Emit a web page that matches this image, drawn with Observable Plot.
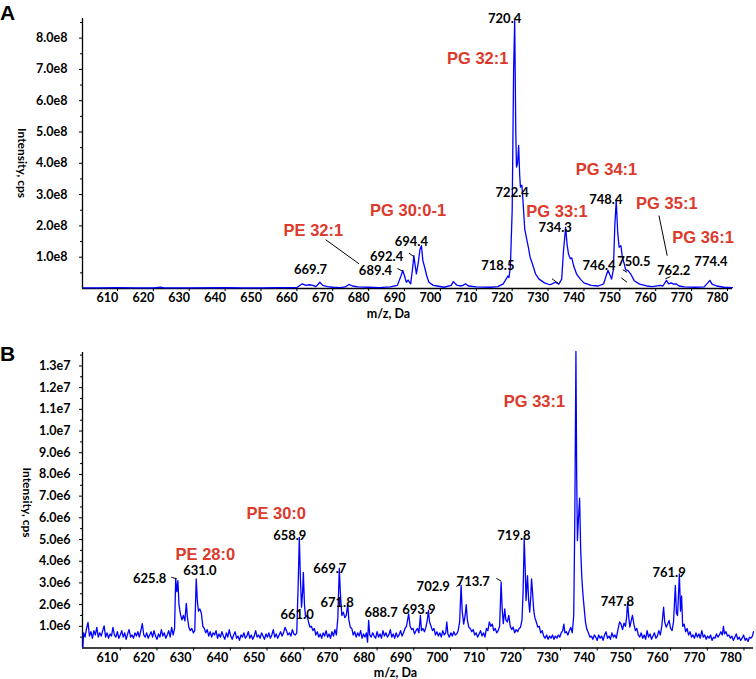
<!DOCTYPE html>
<html><head><meta charset="utf-8">
<script src="https://cdn.jsdelivr.net/npm/d3@7"></script>
<script src="https://cdn.jsdelivr.net/npm/@observablehq/plot@0.6"></script>
<style>
body{margin:0;background:#fff;}
#wrap{position:relative;width:756px;height:679px;overflow:hidden;font-family:Lato,sans-serif;background:#fff;}
.panel{position:absolute;left:0;}
.panel svg{background:transparent !important;}
.tag{position:absolute;font:bold 21px "Liberation Sans",Arial,sans-serif;line-height:25px;}
</style></head><body>
<div id="wrap">
 <div id="pb" class="panel" style="top:312px"></div>
 <div id="pa" class="panel" style="top:0"></div>
 <div class="tag" style="left:0;top:0">A</div>
 <div class="tag" style="left:0;top:341px">B</div>
</div>
<script>
// ---------- Panel A (intensity in units of 1e8 cps) ----------
const mzA = [600.3,605,610,615,620,622,623,630,640,645,650,655,660,661.5,662.5,663.5,664.5,665.3,666.4,667.2,668.5,670,672,673.5,674.5,675.5,677,680,683,686,688,689,689.5,690.0,690.5,691.0,691.7,692.2,692.6,693.0,693.3,693.8,694.3,694.7,695.1,695.6,696.2,696.8,698,699.1,701,703,703.6,704.5,705.5,706.3,707.0,707.8,710,714,716,717.5,718.1,718.8,719.1,719.5,720.0,720.4,720.7,721.0,721.2,721.5,721.8,722.1,722.3,722.7,723.0,723.5,724,724.5,725,725.6,726.5,727.5,729,730.5,731.1,732.0,733.0,733.8,734.3,734.9,735.3,735.7,736.2,736.6,737.2,738,739,740,742,744,745.5,746.3,746.7,747.2,747.7,748.2,748.6,749.0,749.4,749.8,750.3,750.7,751.2,751.6,752.3,753,754,755.5,757.5,759,761.3,762,763.0,763.6,764.3,765,765.7,766.5,768,771,773.5,774.5,775.1,775.7,777,779,781.4];
const intA = [0.02,0.02,0.025,0.02,0.02,0.04,0.02,0.02,0.03,0.02,0.02,0.03,0.03,0.15,0.1,0.12,0.1,0.06,0.2,0.1,0.06,0.04,0.03,0.05,0.13,0.08,0.05,0.04,0.03,0.05,0.1,0.4,0.575,0.4,0.2,0.27,0.15,0.6,1.05,0.7,0.47,0.8,1.25,1.37,0.9,0.68,0.4,0.2,0.1,0.08,0.04,0.1,0.22,0.11,0.08,0.1,0.15,0.08,0.05,0.04,0.06,0.15,0.26,0.4,0.35,0.7,2.5,7.0,8.56,5.0,3.88,4.0,4.57,3.6,3.24,3.3,2.81,1.9,1.6,1.32,1.0,0.8,0.47,0.3,0.18,0.12,0.15,0.2,0.14,0.3,1.2,1.96,1.4,1.1,0.95,0.98,0.7,0.45,0.3,0.18,0.1,0.08,0.15,0.45,0.58,0.45,0.3,0.6,2.0,2.81,1.8,1.32,1.37,1.0,0.8,0.6,0.57,0.47,0.25,0.14,0.08,0.06,0.1,0.08,0.26,0.15,0.18,0.14,0.15,0.08,0.05,0.04,0.05,0.18,0.26,0.14,0.08,0.04,0.03];

const peakTextA = ["669.7","689.4","692.4","694.4","718.5","720.4","722.4","734.3","746.4","748.4","750.5","762.2","774.4"];
const peakXA    = [663.8,681.9,685.0,691.9,716.0,717.9,720.0,732.0,744.2,746.1,753.9,765.0,775.4];
const peakYA    = [0.60,0.575,1.02,1.48,0.73,8.62,3.05,1.93,0.71,2.83,0.86,0.55,0.84];

const lipidTextA = ["PE 32:1","PG 30:0-1","PG 32:1","PG 33:1","PG 34:1","PG 35:1","PG 36:1"];
const lipidXA    = [664.6,691.0,710.4,732.5,746.3,763.1,773.2];
const lipidYA    = [1.85,2.47,7.34,2.44,3.79,2.71,1.62];

const leadX1A = [668.0,688.0,691.2,731.1,750.8,750.4,760.9,762.7];
const leadY1A = [1.56,0.64,1.13,0.31,0.60,0.34,2.33,0.31];
const leadX2A = [677.3,689.5,692.6,733.0,752.0,752.0,763.2,764.1];
const leadY2A = [0.79,0.55,1.02,0.15,0.52,0.20,1.05,0.38];

const yTicksA = [1,2,3,4,5,6,7,8];
const yMinorA = [0.5,1.5,2.5,3.5,4.5,5.5,6.5,7.5,8.5];
const xTicks  = [610,620,630,640,650,660,670,680,690,700,710,720,730,740,750,760,770,780];

// ---------- Panel B (intensity in units of 1e6 cps) ----------
const specB = [
[599.8,0.05],[600.0,0.7],[600.4,0.5],[600.8,0.9],[601.2,1.18],[601.6,0.55],[602.0,0.75],[602.4,0.45],[602.8,0.8],[603.2,0.6],[603.6,0.95],[604.0,0.5],[604.4,0.7],[604.8,0.55],[605.2,0.8],[605.6,1.02],[606.0,0.5],[606.4,0.7],[606.8,0.45],[607.2,0.65],[607.6,0.55],[608.0,0.95],[608.4,0.6],[608.8,0.5],[609.2,0.75],[609.6,0.45],
[610.0,0.6],[610.4,0.8],[610.8,0.5],[611.2,0.7],[611.6,0.4],[612.0,0.65],[612.4,0.85],[612.8,0.5],[613.2,0.6],[613.6,0.45],[614.0,0.7],[614.4,0.55],[614.8,0.75],[615.2,0.5],[615.6,0.8],[616.0,1.12],[616.4,0.6],[616.8,0.5],[617.2,0.7],[617.6,0.45],[618.0,0.6],[618.4,0.75],[618.8,0.5],[619.2,0.8],[619.6,0.55],
[620.0,0.4],[620.4,0.65],[620.8,0.5],[621.2,0.85],[621.6,0.55],[622.0,0.7],[622.4,0.45],[622.8,0.6],[623.2,0.8],[623.6,0.5],[624.0,0.95],[624.4,0.6],[624.8,0.9],[625.1,3.19],[625.4,2.6],[625.7,3.1],[626.0,2.0],[626.4,1.55],[626.8,1.3],[627.2,1.5],[627.6,1.25],[628.0,2.06],[628.3,1.4],[628.7,0.95],[629.1,0.8],[629.5,0.9],[629.9,0.7],
[630.3,0.8],[630.7,3.19],[631.0,2.2],[631.3,1.7],[631.7,1.8],[632.1,1.6],[632.5,1.0],[632.9,0.9],[633.3,0.7],[633.7,0.85],[634.1,0.55],[634.5,0.75],[634.9,0.5],[635.3,0.7],[635.7,0.6],[636.1,0.8],[636.5,0.45],[636.9,0.65],[637.3,0.5],[637.7,0.75],[638.1,0.55],[638.5,0.4],[638.9,0.7],[639.3,0.5],[639.7,0.85],
[640.1,0.55],[640.5,0.4],[640.9,0.6],[641.3,0.75],[641.7,0.45],[642.1,0.55],[642.5,0.35],[642.9,0.6],[643.3,0.5],[643.7,0.7],[644.1,0.45],[644.5,0.55],[644.9,0.75],[645.3,0.45],[645.7,0.6],[646.1,0.4],[646.5,0.55],[646.9,0.8],[647.3,0.5],[647.7,0.6],[648.1,0.45],[648.5,0.7],[648.9,0.55],[649.3,0.4],[649.7,0.65],
[650.1,0.5],[650.5,0.7],[650.9,0.45],[651.3,0.6],[651.7,0.85],[652.1,0.5],[652.5,0.65],[652.9,0.45],[653.3,0.6],[653.7,0.75],[654.1,0.55],[654.5,0.7],[654.9,0.95],[655.3,0.8],[655.7,0.6],[656.1,0.7],[656.5,0.55],[656.9,0.85],[657.3,0.65],[657.7,0.6],[658.1,0.7],[658.5,3.0],[658.8,5.1],[659.1,3.2],[659.4,1.88],[659.7,2.6],[659.9,3.49],
[660.2,2.0],[660.5,1.42],[660.9,1.5],[661.3,1.2],[661.7,0.96],[662.1,1.0],[662.5,0.8],[662.9,0.9],[663.3,0.6],[663.7,0.75],[664.1,0.5],[664.5,0.65],[664.9,0.45],[665.3,0.7],[665.7,0.55],[666.1,0.8],[666.5,0.5],[666.9,0.65],[667.3,0.45],[667.7,0.75],[668.1,0.55],[668.5,0.85],[668.9,0.6],[669.3,1.4],[669.7,3.68],
[670.0,2.5],[670.4,1.5],[670.8,1.65],[671.2,1.4],[671.6,1.5],[672.0,2.03],[672.3,1.3],[672.7,0.96],[673.1,0.9],[673.5,0.6],[673.9,0.75],[674.3,0.5],[674.7,0.7],[675.1,0.55],[675.5,0.8],[675.9,0.45],[676.3,0.65],[676.7,0.5],[677.1,0.7],[677.4,0.27],[677.7,1.27],[678.0,0.6],[678.4,0.5],[678.8,0.7],[679.2,0.55],[679.6,0.45],
[680.0,0.75],[680.4,0.5],[680.8,0.65],[681.2,0.45],[681.6,0.8],[682.0,0.55],[682.4,0.7],[682.8,0.5],[683.2,0.6],[683.6,0.85],[684.0,0.5],[684.4,0.65],[684.8,0.45],[685.2,0.7],[685.6,0.5],[686.0,0.6],[686.4,0.8],[686.8,0.55],[687.2,0.7],[687.6,0.9],[688.0,1.0],[688.6,1.57],[689.0,1.0],[689.4,0.85],[689.8,0.9],
[690.2,0.65],[690.6,0.8],[691.0,0.9],[691.4,0.7],[691.8,1.5],[692.1,0.8],[692.5,0.9],[692.9,0.75],[693.3,0.95],[693.7,1.3],[694.0,1.73],[694.3,1.2],[694.7,1.0],[695.1,0.8],[695.5,0.9],[695.9,0.6],[696.3,0.75],[696.7,0.55],[697.1,0.7],[697.5,0.5],[697.9,0.8],[698.3,0.6],[698.7,0.7],[699.0,1.2],[699.3,0.65],[699.7,0.5],
[700.1,0.7],[700.5,0.55],[700.9,0.75],[701.3,0.6],[701.7,0.65],[702.1,0.8],[702.5,1.2],[702.9,2.88],[703.2,1.7],[703.6,1.1],[704.0,1.5],[704.3,2.0],[704.6,1.3],[705.0,0.96],[705.4,0.9],[705.8,0.75],[706.2,0.85],[706.6,0.6],[707.0,0.7],[707.4,0.5],[707.8,0.65],[708.2,0.8],[708.6,0.55],[709.0,0.7],[709.4,0.5],[709.8,0.9],
[710.2,0.8],[710.6,1.2],[711.0,1.0],[711.4,1.1],[711.8,0.8],[712.2,0.9],[712.6,0.7],[713.0,0.8],[713.4,1.0],[713.8,3.03],[714.1,1.8],[714.4,1.12],[714.8,1.8],[715.1,1.3],[715.5,1.2],[715.9,1.5],[716.3,1.0],[716.7,0.85],[717.1,0.96],[717.5,0.7],[717.9,0.85],[718.3,0.75],[718.7,0.9],[719.1,0.96],[719.5,1.3],[719.8,2.6],
[720.1,5.03],[720.4,3.5],[720.6,2.19],[720.8,2.8],[721.0,3.34],[721.3,2.2],[721.6,1.65],[721.9,2.4],[722.1,3.19],[722.4,2.5],[722.7,1.73],[723.0,1.4],[723.4,1.2],[723.8,0.96],[724.2,1.0],[724.6,0.7],[725.0,0.8],[725.4,0.55],[725.8,0.45],[726.2,0.6],[726.6,0.4],[727.0,0.55],[727.4,0.45],[727.8,0.6],[728.2,0.4],[728.6,0.55],[729.0,0.45],[729.4,0.6],[729.8,0.5],
[730.2,0.7],[730.6,0.8],[730.9,1.1],[731.2,0.7],[731.6,0.75],[732.0,0.6],[732.4,0.8],[732.8,0.95],[733.2,0.7],[733.6,1.5],[733.9,6.0],[734.2,13.67],[734.4,8.0],[734.6,4.95],[734.9,6.0],[735.2,6.91],[735.5,4.5],[735.8,3.26],[736.1,2.5],[736.4,1.92],[736.8,1.2],[737.2,0.85],[737.6,0.7],[738.0,0.5],[738.4,0.55],[738.8,0.4],[739.2,0.6],[739.6,0.5],
[740.0,0.35],[740.4,0.6],[740.8,0.45],[741.2,0.55],[741.6,0.35],[742.0,0.6],[742.4,0.75],[742.8,0.45],[743.2,0.55],[743.6,0.4],[744.0,0.7],[744.4,0.5],[744.8,0.6],[745.2,0.45],[745.6,0.8],[746.1,1.2],[746.5,1.1],[746.9,0.85],[747.3,1.15],[747.7,1.0],[748.0,1.4],[748.3,2.11],[748.6,1.4],[748.9,0.96],[749.2,1.2],[749.6,1.5],
[750.0,1.1],[750.4,0.8],[750.8,0.9],[751.2,0.6],[751.6,0.5],[752.0,0.7],[752.4,0.45],[752.8,0.6],[753.2,0.4],[753.6,0.8],[754.0,0.5],[754.4,0.65],[754.8,0.4],[755.2,0.55],[755.6,0.7],[756.0,0.45],[756.4,0.55],[756.8,0.8],[757.2,0.6],[757.6,1.0],[758.1,1.88],[758.4,1.2],[758.8,0.96],[759.2,1.1],[759.6,1.27],
[760.0,0.9],[760.4,0.8],[760.8,1.2],[761.3,2.88],[761.6,1.6],[761.9,1.5],[762.4,3.41],[762.7,1.7],[763.0,2.4],[763.3,1.0],[763.7,1.1],[764.1,0.75],[764.5,0.9],[764.9,0.6],[765.3,0.75],[765.7,0.5],[766.1,0.6],[766.5,0.45],[766.9,0.7],[767.3,0.5],[767.7,0.65],[768.1,0.45],[768.5,0.8],[768.9,0.5],[769.3,0.6],[769.7,0.4],
[770.1,0.55],[770.5,0.45],[770.9,0.6],[771.3,0.35],[771.7,0.5],[772.1,0.45],[772.5,0.65],[772.9,0.5],[773.3,0.6],[773.7,0.75],[774.1,0.6],[774.4,1.0],[774.7,0.65],[775.1,0.75],[775.5,0.55],[775.9,0.6],[776.3,0.45],[776.7,0.55],[777.1,0.35],[777.5,0.5],[777.9,0.65],[778.3,0.4],[778.7,0.5],[779.1,0.35],[779.5,0.45],[779.9,0.6],
[780.3,0.35],[780.7,0.45],[781.1,0.3],[781.5,0.5],[781.9,0.45],[782.3,0.55],[782.6,0.75]
];

const peakTextB = ["625.8","631.0","658.9","661.0","669.7","671.8","688.7","693.9","702.9","713.7","719.8","747.8","761.9"];
const peakXB    = [618.0,631.7,656.2,658.2,667.1,669.1,681.1,691.4,695.3,706.2,717.3,745.5,759.6];
const peakYB    = [3.19,3.55,5.17,1.54,3.67,2.08,1.60,1.76,2.83,3.03,5.18,2.14,3.46];

const lipidTextB = ["PE 28:0","PE 30:0","PG 33:1"];
const lipidXB    = [633.2,652.5,722.9];
const lipidYB    = [4.30,6.21,11.36];

const leadX1B = [623.9,701.6,712.5];
const leadY1B = [3.26,2.83,3.21];
const leadX2B = [625.4,702.8,713.8];
const leadY2B = [3.19,2.98,3.08];

const yTicksB = [1,2,3,4,5,6,7,8,9,10,11,12,13];
const yMinorB = [0.5,1.5,2.5,3.5,4.5,5.5,6.5,7.5,8.5,9.5,10.5,11.5,12.5,13.5];

// ---------- helpers ----------
const BLUE = "#0000ff", RED = "#dc3a2c";
const zip3 = (t, x, y) => t.map((s, i) => ({t: s, x: x[i], y: y[i]}));
const links = (x1, y1, x2, y2) => x1.map((v, i) => ({x1: v, y1: y1[i], x2: x2[i], y2: y2[i]}));
const fmtB = d => d >= 10 ? (d / 10).toFixed(1) + "e7" : d.toFixed(1) + "e6";

function panel({spec, xDomain, yDomain, margins, height, yTicks, yMinor, yFmt, yPad,
                peaks, lipids, leads, tickDx, yLab, xLab}) {
  return Plot.plot({
    width: 756, height,
    marginLeft: margins[0], marginRight: margins[1], marginTop: margins[2], marginBottom: margins[3],
    x: {domain: xDomain, label: null},
    y: {domain: yDomain, label: null},
    style: {fontFamily: "Lato, sans-serif", fontSize: "12.5px", fontWeight: "bold", color: "black", background: "transparent", overflow: "visible"},
    marks: [
      Plot.axisY({ticks: yTicks, tickSize: 3, tickPadding: yPad, tickFormat: yFmt, label: null}),
      Plot.axisY({ticks: yMinor, tickSize: 2, fill: "none", label: null}),
      Plot.axisX({ticks: xTicks, tickSize: 3, fill: "none", label: null}),
      Plot.axisX({ticks: xTicks, tickSize: 3, tickPadding: 2, stroke: "none", dx: tickDx, tickFormat: d => String(d), label: null}),
      Plot.ruleX([xDomain[0]], {stroke: "black", strokeWidth: 1.3}),
      Plot.ruleY([0], {stroke: "black", strokeWidth: 1.3}),
      Plot.line(spec, {x: "mz", y: "v", stroke: BLUE, strokeWidth: 1.3, curve: "linear"}),
      Plot.link(leads, {x1: "x1", y1: "y1", x2: "x2", y2: "y2", stroke: "black", strokeWidth: 1}),
      Plot.text(peaks, {x: "x", y: "y", text: "t", fill: "black", fontSize: 13, fontWeight: "bold", fontFamily: "Lato, sans-serif"}),
      Plot.text(lipids, {x: "x", y: "y", text: "t", fill: RED, fontSize: 16.5, fontWeight: "bold", fontFamily: "'Liberation Sans', Arial, sans-serif"}),
      Plot.text(["Intensity, cps"], {frameAnchor: "left", dx: yLab[0], dy: yLab[1], rotate: 90, fontSize: 12, fontWeight: "bold", lineAnchor: "middle"}),
      Plot.text(["m/z, Da"], {frameAnchor: "bottom", dx: xLab[0], dy: xLab[1], fontSize: 12.5, fontWeight: "bold", lineAnchor: "middle"})
    ]
  });
}

const specA = mzA.map((m, i) => ({mz: m, v: intA[i]}));
const specBrows = specB.map(([m, v]) => ({mz: m, v}));

document.getElementById("pa").appendChild(panel({
  spec: specA, xDomain: [600.25, 781.4], yDomain: [0, 8.626],
  margins: [82, 24, 18, 34], height: 322,
  yTicks: yTicksA, yMinor: yMinorA, yFmt: d => d.toFixed(1) + "e8", yPad: 12,
  peaks: zip3(peakTextA, peakXA, peakYA), lipids: zip3(lipidTextA, lipidXA, lipidYA),
  leads: links(leadX1A, leadY1A, leadX2A, leadY2A), tickDx: -10,
  yLab: [-60.3, -25.5], xLab: [-19, 25]
}));

document.getElementById("pb").appendChild(panel({
  spec: specBrows, xDomain: [599.7, 782.6], yDomain: [0, 13.62],
  margins: [82, 3, 40, 31.5], height: 367,
  yTicks: yTicksB, yMinor: yMinorB, yFmt: fmtB, yPad: 9,
  peaks: zip3(peakTextB, peakXB, peakYB), lipids: zip3(lipidTextB, lipidXB, lipidYB),
  leads: links(leadX1B, leadY1B, leadX2B, leadY2B), tickDx: -13,
  yLab: [-55.3, -32.75], xLab: [-22.5, 24.5]
}));
</script>
</body></html>
